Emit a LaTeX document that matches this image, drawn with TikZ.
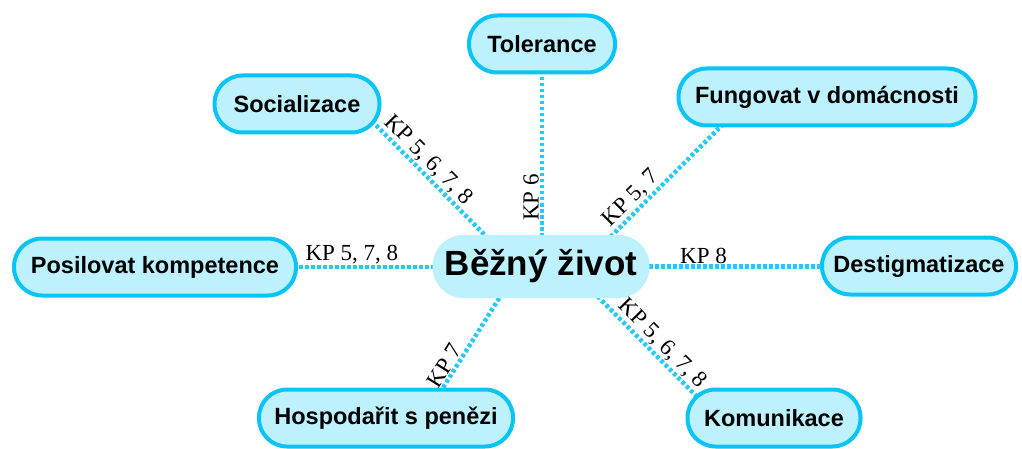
\documentclass[tikz,border=0pt]{standalone}
\usepackage{fontspec}
\setmainfont{Liberation Serif}
\newfontfamily\boxfont{Liberation Sans}
\usetikzlibrary{calc,backgrounds}
\definecolor{pillfill}{RGB}{188,241,253}
\definecolor{pilledge}{RGB}{10,196,245}
\definecolor{linkdot}{RGB}{40,200,248}
\begin{document}
\begin{tikzpicture}[x=1pt,y=-1pt,
  topic/.style={rectangle, rounded corners=28pt, draw=pilledge, line width=4pt,
    fill=pillfill, minimum height=57pt, inner sep=0pt, text=black,
    font=\boxfont\bfseries\fontsize{23.5}{26}\selectfont},
  hub/.style={rectangle, rounded corners=31pt, fill=pillfill, minimum width=217pt,
    minimum height=63pt, inner sep=0pt, text=black,
    font=\boxfont\bfseries\fontsize{35}{40}\selectfont},
  link/.style={draw=linkdot, line width=4.5pt, dash pattern=on 3.5pt off 2.5pt},
  kp/.style={font=\fontsize{23}{26}\selectfont, inner sep=1pt, sloped, above, text=black}]
\useasboundingbox (0,0) rectangle (1022,449);

% central topic
\node[hub] (mid) at (541,266.5) {Běžný život};

% surrounding topics
\node[topic, minimum width=146pt] (tol) at (542,44)  {Tolerance};
\node[topic, minimum width=165pt] (soc) at (297,104) {Socializace};
\node[topic, minimum width=297pt] (fun) at (827,97)  {Fungovat v domácnosti};
\node[topic, minimum width=282pt] (pos) at (155,267) {Posilovat kompetence};
\node[topic, minimum width=194pt] (des) at (919,266) {Destigmatizace};
\node[topic, minimum width=254pt] (hos) at (386,418) {Hospodařit s penězi};
\node[topic, minimum width=173pt] (kom) at (774,418) {Komunikace};

% dotted links with their labels, behind the topics
\begin{scope}[on background layer]
  \draw[link] (tol.center |- mid.center) -- node[kp, pos=0.31] {KP 6} (tol.center);
  \draw[link] ($(soc.center)+(58,0)$) -- node[kp, pos=0.40] {KP 5, 6, 7, 8} ($(mid.center)+(-25,0)$);
  \draw[link] ($(mid.center)+(40,0)$) -- node[kp, pos=0.35] {KP 5, 7} ($(fun.center)+(-77,0)$);
  \draw[link] (pos.center) -- node[kp, pos=0.51] {KP 5, 7, 8} (pos.center -| mid.center);
  \draw[link] (mid.center) -- node[kp, pos=0.43] {KP 8} (mid.center -| des.center);
  \draw[link] ($(hos.center)+(38,0)$) -- node[kp, pos=0.31] {KP 7} ($(mid.center)+(-22,0)$);
  \draw[link] ($(mid.center)+(27,0)$) -- node[kp, pos=0.57] {KP 5, 6, 7, 8} ($(kom.center)+(-56,0)$);
\end{scope}
\end{tikzpicture}
\end{document}
